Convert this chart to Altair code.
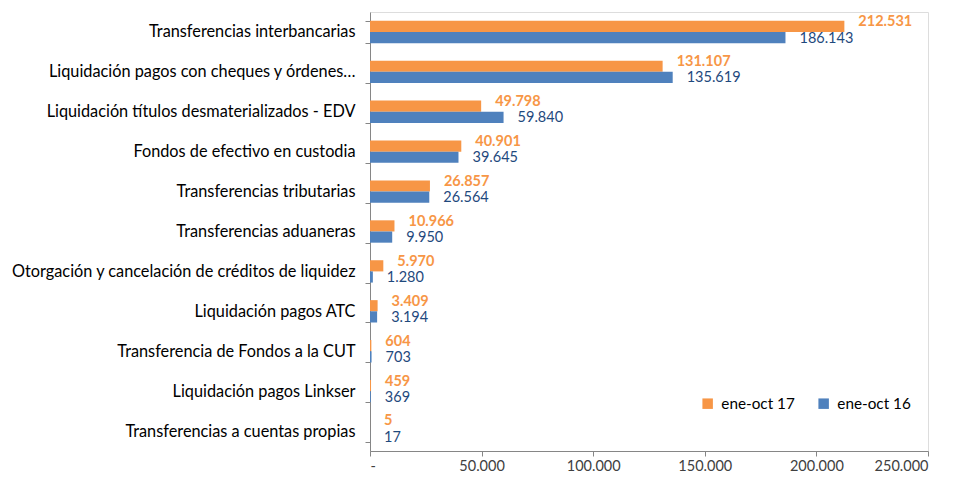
import altair as alt
import pandas as pd

categories = [
    "Transferencias interbancarias\u00a0",
    "Liquidación pagos con cheques y órdenes…",
    "Liquidación títulos desmaterializados - EDV",
    "Fondos de efectivo en custodia",
    "Transferencias tributarias\u00a0",
    "Transferencias aduaneras",
    "Otorgación y cancelación de créditos de liquidez",
    "Liquidación pagos ATC",
    "Transferencia de Fondos a la CUT",
    "Liquidación pagos Linkser",
    "Transferencias a cuentas propias",
]
series = ["ene-oct 17", "ene-oct 16"]
values_17 = [212531, 131107, 49798, 40901, 26857, 10966, 5970, 3409, 604, 459, 5]
values_16 = [186143, 135619, 59840, 39645, 26564, 9950, 1280, 3194, 703, 369, 17]
x_ticks = [0, 50000, 100000, 150000, 200000, 250000]

colors = ["#F79646", "#4F81BD"]
label_colors = ["#F79646", "#1F497D"]

rows = []
for c, a, b in zip(categories, values_17, values_16):
    for s, v in ((series[0], a), (series[1], b)):
        rows.append({"cat": c, "serie": s, "valor": v,
                     "etiqueta": f"{v:,}".replace(",", ".")})
df = pd.DataFrame(rows)

FONT = "Lato"

y = alt.Y(
    "cat:N", sort=categories, title=None,
    scale=alt.Scale(paddingInner=0.44, paddingOuter=0.22),
    axis=alt.Axis(tickBand="extent", tickSize=5, labelPadding=10, labelFont=FONT,
                  labelFontSize=16.3, labelColor="#000000", domainColor="#868686",
                  tickColor="#868686", labelLimit=450),
)
yoff = alt.YOffset("serie:N", sort=series,
                   scale=alt.Scale(domain=series, paddingInner=0, paddingOuter=0))
x = alt.X(
    "valor:Q", title=None,
    scale=alt.Scale(domain=[0, 250000], nice=False),
    axis=alt.Axis(values=x_ticks, grid=False, tickSize=5, labelPadding=3,
                  labelFont=FONT, labelFontSize=14.5, labelColor="#404040",
                  domainColor="#868686", tickColor="#868686",
                  labelExpr="datum.value == 0 ? '-' : replace(format(datum.value, ','), ',', '.')"),
)

base = alt.Chart(df)

bars = base.mark_bar().encode(
    x=x, y=y, yOffset=yoff,
    color=alt.Color("serie:N", sort=series,
                    scale=alt.Scale(domain=series, range=colors),
                    legend=alt.Legend(orient="none", legendX=330, legendY=384,
                                      direction="horizontal", title=None,
                                      symbolType="square", symbolSize=110,
                                      symbolStrokeWidth=0, labelFont=FONT,
                                      labelFontSize=15.3, labelColor="#000000",
                                      columnPadding=21, labelOffset=6)),
)

t17 = base.transform_filter(alt.datum.serie == series[0]).mark_text(
    align="left", baseline="middle", dx=14, dy=-4, font=FONT, fontSize=14.5,
    fontWeight="bold", color=label_colors[0],
).encode(x=x, y=y, yOffset=yoff, text="etiqueta:N")

t16 = base.transform_filter(alt.datum.serie == series[1]).mark_text(
    align="left", baseline="middle", dx=14, dy=1, font=FONT, fontSize=14.5,
    color=label_colors[1],
).encode(x=x, y=y, yOffset=yoff, text="etiqueta:N")

chart = alt.layer(bars, t17, t16).properties(
    width=558, height=439,
    autosize=alt.AutoSizeParams(type="none"),
    padding={"left": 362, "top": 4, "right": 20, "bottom": 23},
).configure_view(stroke=None).configure(background="white")

chart.save("out.html", embed_options={"renderer": "svg", "actions": False})
